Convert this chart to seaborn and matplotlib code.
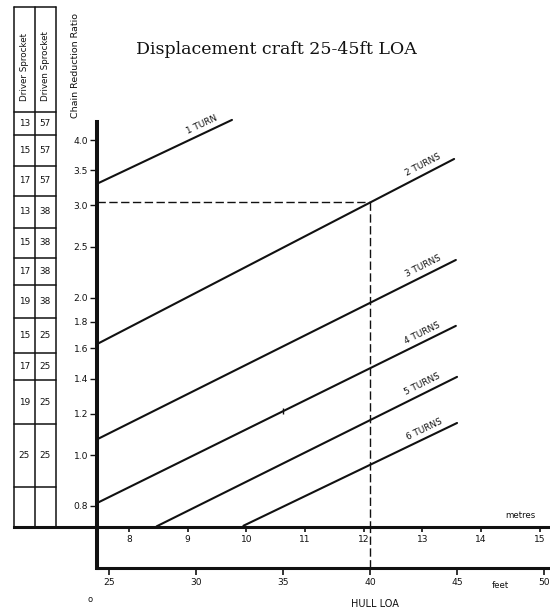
import numpy as np
import pandas as pd
import matplotlib
matplotlib.use("Agg")
import matplotlib.pyplot as plt
import seaborn as sns
from matplotlib.ticker import FixedLocator, NullLocator, FixedFormatter

# ---------------- data ----------------
title = "Displacement craft 25-45ft LOA"
ylabel = "Chain Reduction Ratio"
ratio_ticks = [0.8, 1.0, 1.2, 1.4, 1.6, 1.8, 2.0, 2.5, 3.0, 3.5, 4.0]
ratio_labels = ["0.8", "1.0", "1.2", "1.4", "1.6", "1.8", "2.0", "2.5", "3.0", "3.5", "4.0"]
metre_ticks = [8, 9, 10, 11, 12, 13, 14, 15]
feet_ticks = [25, 30, 35, 40, 45, 50]

turn_names = ["1 TURN", "2 TURNS", "3 TURNS", "4 TURNS", "5 TURNS", "6 TURNS"]
start_m = [7.455, 7.455, 7.47, 7.455, 8.47, 9.95]
start_r = [3.30, 1.63, 1.074, 0.81, 0.731, 0.733]
end_m = [9.755, 13.54, 13.57, 13.57, 13.59, 13.59]
end_r = [4.37, 3.68, 2.36, 1.766, 1.411, 1.152]
label_m = [9.30, 13.08, 13.08, 13.06, 13.06, 13.10]

driver = [13, 15, 17, 13, 15, 17, 19, 15, 17, 19, 25]
driven = [57, 57, 57, 38, 38, 38, 38, 25, 25, 25, 25]
header_edge = 4.52
blank_edge = 0.87
example_feet = 40
mark_m = 10.62  # small mark on 4 TURNS line

# ---------------- figure ----------------
sns.set_theme(style="white")
plt.rcParams["font.family"] = ["DejaVu Sans"]
W, H = 550, 611
fig = plt.figure(figsize=(W / 100, H / 100), dpi=100)
fig.patch.set_facecolor("white")


def px_axes(left, top, right, bottom):
    return [left / W, 1 - bottom / H, (right - left) / W, (bottom - top) / H]


ink = "#111111"
ax = fig.add_axes(px_axes(97, 122, 548, 527))
ax_ft = fig.add_axes(px_axes(97, 527, 548, 568))
ax_t = fig.add_axes(px_axes(14, 7, 97, 527))
for a in (ax, ax_ft, ax_t):
    a.set_facecolor("none")
    a.grid(False)

# main axes
ax.set_yscale("log")
ylo, yhi = 0.729, 4.33
ax.set_ylim(ylo, yhi)
ax.set_xlim(7.455, 15.14)

rows = []
for name, sm, sr, em, er in zip(turn_names, start_m, start_r, end_m, end_r):
    rows.append({"turns": name, "metres": sm, "ratio": sr})
    rows.append({"turns": name, "metres": em, "ratio": er})
df = pd.DataFrame(rows)
sns.lineplot(data=df, x="metres", y="ratio", hue="turns", palette=[ink] * 6,
             legend=False, lw=1.5, ax=ax, estimator=None, sort=False)
for ln in ax.lines:
    ln.set_clip_on(False)
ax.set_xlabel("")
ax.set_ylabel("")

for s in ["top", "right"]:
    ax.spines[s].set_visible(False)
ax.spines["left"].set_linewidth(2.9)
ax.spines["bottom"].set_linewidth(2.2)
ax.spines["left"].set_color(ink)
ax.spines["bottom"].set_color(ink)
ax.yaxis.set_major_locator(FixedLocator(ratio_ticks))
ax.yaxis.set_major_formatter(FixedFormatter(ratio_labels))
ax.yaxis.set_minor_locator(NullLocator())
ax.xaxis.set_major_locator(FixedLocator(metre_ticks))
ax.xaxis.set_minor_locator(NullLocator())
ax.tick_params(axis="y", direction="out", length=5, width=1.0, pad=1.5,
               labelsize=6.6, colors=ink, left=True)
ax.tick_params(axis="x", direction="out", length=3.6, width=1.2, pad=2,
               labelsize=6.6, colors=ink, bottom=True)

# line labels
for name, sm, sr, em, er, lm in zip(turn_names, start_m, start_r, end_m, end_r, label_m):
    p1 = ax.transData.transform((sm, sr))
    p2 = ax.transData.transform((em, er))
    ang = np.degrees(np.arctan2(p2[1] - p1[1], p2[0] - p1[0]))
    t = (lm - sm) / (em - sm)
    lr = 10 ** (np.log10(sr) + t * (np.log10(er) - np.log10(sr)))
    off = 6.3
    ax.annotate(name, xy=(lm, lr),
                xytext=(-off * np.sin(np.radians(ang)), off * np.cos(np.radians(ang))),
                textcoords="offset points", rotation=ang, rotation_mode="anchor",
                ha="center", va="center", fontsize=6.4, color=ink,
                annotation_clip=False)

# small mark on 4 TURNS
i4 = 3
t4 = (mark_m - start_m[i4]) / (end_m[i4] - start_m[i4])
r4 = 10 ** (np.log10(start_r[i4]) + t4 * (np.log10(end_r[i4]) - np.log10(start_r[i4])))
ax.plot([mark_m], [r4], marker="|", ms=5, mew=1.0, color=ink)

# feet axis
ax_ft.set_xlim(24.31, 50.21)
ax_ft.set_ylim(0, 1)
for s in ["top", "right"]:
    ax_ft.spines[s].set_visible(False)
ax_ft.spines["left"].set_linewidth(2.9)
ax_ft.spines["bottom"].set_linewidth(2.2)
ax_ft.spines["left"].set_color(ink)
ax_ft.spines["bottom"].set_color(ink)
ax_ft.set_yticks([])
ax_ft.xaxis.set_major_locator(FixedLocator(feet_ticks))
ax_ft.tick_params(axis="x", direction="out", length=5, width=1.2, pad=2.2,
                  labelsize=6.6, colors=ink, bottom=True)

# dashed example
x_disp = ax_ft.transData.transform((example_feet, 0))[0]
xm = ax.transData.inverted().transform((x_disp, 300))[0]
i2 = 1
t2 = (xm - start_m[i2]) / (end_m[i2] - start_m[i2])
r_star = 10 ** (np.log10(start_r[i2]) + t2 * (np.log10(end_r[i2]) - np.log10(start_r[i2])))
dash = (0, (6, 2.5))
ax.plot([ax.get_xlim()[0], xm], [r_star, r_star], ls=dash, lw=1.0, color=ink)
ax.plot([xm, xm], [r_star, ylo], ls=dash, lw=1.0, color=ink)
ax_ft.axvline(example_feet, ls=dash, lw=1.0, color=ink)

# table
ax_t.set_yscale("log")
frac = (527 - 7) / (527 - 122)
t_top = 10 ** (np.log10(ylo) + frac * (np.log10(yhi) - np.log10(ylo)))
ax_t.set_ylim(ylo, t_top)
ax_t.set_xlim(0, 4)
for s in ["top", "right", "left"]:
    ax_t.spines[s].set_visible(False)
ax_t.spines["bottom"].set_linewidth(2.2)
ax_t.spines["bottom"].set_color(ink)
ax_t.set_xticks([])
ax_t.set_yticks([])
ax_t.yaxis.set_minor_locator(NullLocator())

ratios = np.array(driven) / np.array(driver)
inner = np.sqrt(ratios[:-1] * ratios[1:])
edges = np.concatenate([[t_top, header_edge], inner, [blank_edge, ylo]])
for e in edges:
    ax_t.plot([0, 2], [e, e], color=ink, lw=1.1, clip_on=False)
for xv in [0, 1, 2]:
    ax_t.plot([xv, xv], [ylo, t_top], color=ink, lw=1.1, clip_on=False)
for i, (d1, d2) in enumerate(zip(driver, driven)):
    yc = np.sqrt(edges[i + 1] * edges[i + 2])
    ax_t.text(0.5, yc, str(d1), ha="center", va="center", fontsize=6.4, color=ink)
    ax_t.text(1.5, yc, str(d2), ha="center", va="center", fontsize=6.4, color=ink)
yh = np.sqrt(t_top * header_edge) * 0.97
ax_t.text(0.5, yh, "Driver Sprocket", rotation=90, ha="center", va="center",
          fontsize=6.3, color=ink)
ax_t.text(1.5, yh, "Driven Sprocket", rotation=90, ha="center", va="center",
          fontsize=6.3, color=ink)

# texts
fig.text(276 / W, 1 - 50 / H, title, ha="center", va="center",
         fontsize=12.5, family="DejaVu Serif", color=ink)
fig.text(76 / W, 1 - 66 / H, ylabel, rotation=90, ha="center", va="center",
         fontsize=6.8, color=ink)
fig.text(520 / W, 1 - 515 / H, "metres", ha="center", va="center", fontsize=6.2, color=ink)
fig.text(500 / W, 1 - 586 / H, "feet", ha="center", va="center", fontsize=6.2, color=ink)
fig.text(375 / W, 1 - 604 / H, "HULL LOA", ha="center", va="center", fontsize=7, color=ink)
fig.text(90 / W, 1 - 599 / H, "o", ha="center", va="center", fontsize=6, color=ink)

fig.savefig("out.png", dpi=100, facecolor="white")
